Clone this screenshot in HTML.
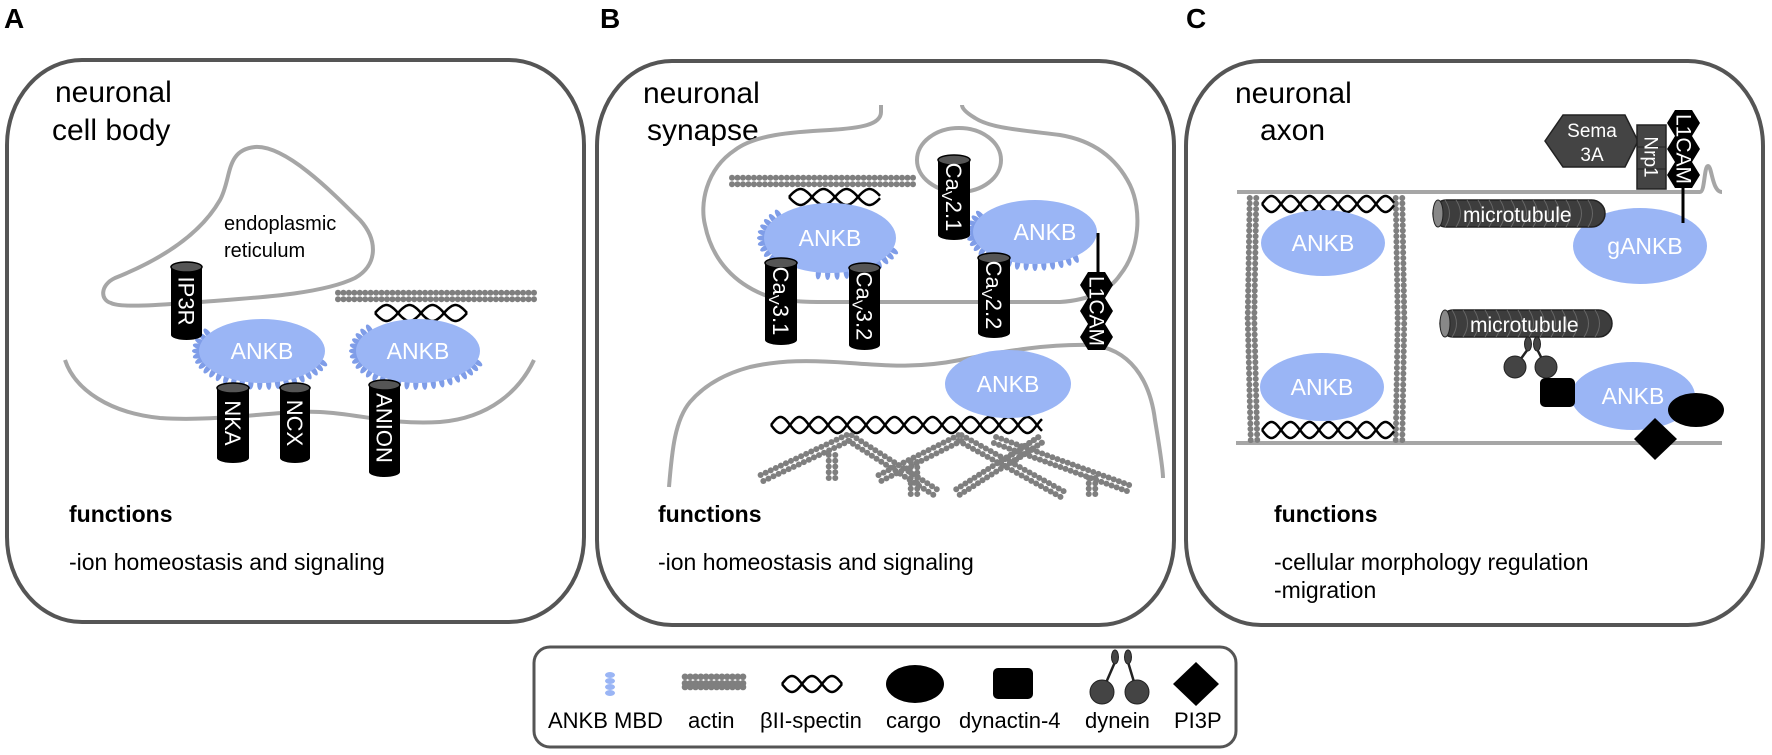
<!DOCTYPE html>
<html><head><meta charset="utf-8"><style>
html,body{margin:0;padding:0;background:#fff}
svg{display:block}
text{font-family:"Liberation Sans",sans-serif}
</style></head><body>
<svg id="s" width="1772" height="755" viewBox="0 0 1772 755" xmlns="http://www.w3.org/2000/svg">
<rect width="1772" height="755" fill="#fff"/>
<text x="4" y="28" font-size="28" font-weight="bold">A</text>
<text x="600" y="28" font-size="28" font-weight="bold">B</text>
<text x="1186" y="28" font-size="28" font-weight="bold">C</text>
<rect x="7" y="60" width="577" height="562" rx="75" ry="85" fill="none" stroke="#555" stroke-width="4"/>
<rect x="597" y="61" width="577" height="564" rx="75" ry="85" fill="none" stroke="#555" stroke-width="4"/>
<rect x="1186" y="61" width="577" height="564" rx="75" ry="85" fill="none" stroke="#555" stroke-width="4"/>
<rect x="534" y="647" width="702" height="100" rx="16" ry="16" fill="none" stroke="#555" stroke-width="3"/>

<g font-size="30" fill="#000">
<text x="55" y="102">neuronal</text><text x="52" y="140">cell body</text>
<text x="643" y="103">neuronal</text><text x="647" y="140">synapse</text>
<text x="1235" y="103">neuronal</text><text x="1260" y="140">axon</text>
</g>
<g font-size="23">
<text x="69" y="522" font-weight="bold">functions</text>
<text x="69" y="570">-ion homeostasis and signaling</text>
<text x="658" y="522" font-weight="bold">functions</text>
<text x="658" y="570">-ion homeostasis and signaling</text>
<text x="1274" y="522" font-weight="bold">functions</text>
<text x="1274" y="570">-cellular morphology regulation</text>
<text x="1274" y="598">-migration</text>
</g>

<g fill="none" stroke="#a6a6a6" stroke-width="4">
<path d="M111,303 C100,300 100,285 115,278 C160,260 200,235 220,200 C232,178 225,150 255,147 C285,145 330,190 360,220 C378,240 378,265 355,278 C320,295 250,298 200,302 C160,305 120,308 111,303 Z"/>
<path d="M65,360 C75,390 110,413 160,418 C220,422 280,410 320,412 C360,414 390,425 440,422 C490,418 520,390 534,360"/>
<path d="M881,105 L881,112 C881,125 860,128 830,130 C790,132 755,135 735,150 C705,170 700,205 705,225 C712,260 735,285 770,297 C790,303 820,302 850,302 L1060,302 C1090,300 1110,290 1120,275 C1140,250 1142,210 1130,185 C1115,155 1090,140 1060,135 C1020,130 990,128 975,118 C965,112 962,108 962,105"/>
<ellipse cx="959" cy="160" rx="42" ry="32"/>
<path d="M669,487 C672,450 675,420 690,402 C702,388 720,375 750,367 C780,360 810,360 850,363 C890,366 920,368 960,360 C1010,350 1050,344 1090,345 C1130,348 1150,380 1155,420 C1160,450 1163,470 1163,478"/>
<path d="M1237,192 L1700,192 C1705,192 1704,166 1708,166 C1712,166 1712,192 1722,192"/>
<path d="M1236,443 L1722,443"/>
</g>

<g id="gen"></g>

<g fill="#9ab5f5">
<ellipse cx="262" cy="351" rx="63" ry="32"/>
<ellipse cx="418" cy="351" rx="62" ry="32"/>
<ellipse cx="830" cy="238" rx="66" ry="35"/>
<ellipse cx="1035" cy="232" rx="62" ry="32"/>
<ellipse cx="1008" cy="384" rx="63" ry="34"/>
<ellipse cx="1323" cy="243" rx="62" ry="33"/>
<ellipse cx="1322" cy="387" rx="62" ry="34"/>
<ellipse cx="1640" cy="246" rx="67" ry="38"/>
<ellipse cx="1633" cy="396" rx="62" ry="34"/>
</g>
<g fill="#fff" font-size="23" text-anchor="middle">
<text x="262" y="359">ANKB</text>
<text x="418" y="359">ANKB</text>
<text x="830" y="246">ANKB</text>
<text x="1045" y="240">ANKB</text>
<text x="1008" y="392">ANKB</text>
<text x="1323" y="251">ANKB</text>
<text x="1322" y="395">ANKB</text>
<text x="1645" y="254">gANKB</text>
<text x="1633" y="404">ANKB</text>
</g>

<text x="224" y="230" font-size="20">endoplasmic</text>
<text x="224" y="257" font-size="20">reticulum</text>

<g id="cyl"></g>
<g fill="#fff" font-size="22" text-anchor="middle">
<text transform="translate(186.5,301) rotate(90)" dy="8">IP3R</text>
<text transform="translate(233,423) rotate(90)" dy="8">NKA</text>
<text transform="translate(295,423) rotate(90)" dy="8">NCX</text>
<text transform="translate(384.5,428) rotate(90)" dy="8">ANION</text>
<text transform="translate(954,197) rotate(90)" dy="8">Ca<tspan font-size="15" dy="4">V</tspan><tspan dy="-4">2.1</tspan></text>
<text transform="translate(781,301) rotate(90)" dy="8">Ca<tspan font-size="15" dy="4">V</tspan><tspan dy="-4">3.1</tspan></text>
<text transform="translate(864.5,306) rotate(90)" dy="8">Ca<tspan font-size="15" dy="4">V</tspan><tspan dy="-4">3.2</tspan></text>
<text transform="translate(994,295) rotate(90)" dy="8">Ca<tspan font-size="15" dy="4">V</tspan><tspan dy="-4">2.2</tspan></text>
</g>

<line x1="1098" y1="233" x2="1098" y2="274" stroke="#000" stroke-width="3"/>
<g fill="#000">
<polygon points="1080,285 1088,272 1105,272 1113,285 1105,298 1088,298"/>
<polygon points="1080,311 1088,298 1105,298 1113,311 1105,324 1088,324"/>
<polygon points="1080,337 1088,324 1105,324 1113,337 1105,350 1088,350"/>
</g>
<text transform="translate(1096.5,311) rotate(90)" dy="7" fill="#fff" font-size="21" text-anchor="middle">L1CAM</text>

<polygon points="1545,141 1563,115 1625,115 1638,141 1625,167 1563,167" fill="#444" stroke="#222" stroke-width="1.5"/>
<text x="1592" y="137" fill="#fff" font-size="19" text-anchor="middle">Sema</text>
<text x="1592" y="161" fill="#fff" font-size="19" text-anchor="middle">3A</text>
<rect x="1637" y="125" width="29" height="64" fill="#444" stroke="#222" stroke-width="1.5"/>
<line x1="1637" y1="147" x2="1666" y2="147" stroke="#222"/><line x1="1637" y1="169" x2="1666" y2="169" stroke="#222"/>
<text transform="translate(1651.5,157) rotate(90)" dy="7" fill="#fff" font-size="19" text-anchor="middle">Nrp1</text>
<line x1="1683" y1="185" x2="1683" y2="223" stroke="#000" stroke-width="3"/>
<g fill="#000">
<polygon points="1667,123 1675,110 1692,110 1700,123 1692,136 1675,136"/>
<polygon points="1667,149 1675,136 1692,136 1700,149 1692,162 1675,162"/>
<polygon points="1667,175 1675,162 1692,162 1700,175 1692,188 1675,188"/>
</g>
<text transform="translate(1683.5,149) rotate(90)" dy="7" fill="#fff" font-size="21" text-anchor="middle">L1CAM</text>

<g id="mt"></g>
<text x="1463" y="222" fill="#fff" font-size="21">microtubule</text>
<text x="1470" y="332" fill="#fff" font-size="21">microtubule</text>
<g id="dyn"></g>

<rect x="1540" y="378" width="35" height="29" rx="5" fill="#000"/>
<ellipse cx="1696" cy="410" rx="28" ry="17" fill="#000"/>
<polygon points="1655,418 1677,439 1655,460 1634,439" fill="#000"/>

<g font-size="22" fill="#000">
<text x="548" y="728">ANKB MBD</text>
<text x="688" y="728">actin</text>
<text x="760" y="728">βII-spectin</text>
<text x="886" y="728">cargo</text>
<text x="959" y="728">dynactin-4</text>
<text x="1085" y="728">dynein</text>
<text x="1174" y="728">PI3P</text>
</g>
<g fill="#9ab5f5"><ellipse cx="610" cy="675" rx="5" ry="3"/><ellipse cx="610" cy="681" rx="5" ry="3"/><ellipse cx="610" cy="687" rx="5" ry="3"/><ellipse cx="610" cy="693" rx="5" ry="3"/></g>
<ellipse cx="915" cy="684" rx="29" ry="19" fill="#000"/>
<rect x="993" y="668" width="40" height="31" rx="5" fill="#000"/>
<polygon points="1196,662 1219,684 1196,706 1173,684" fill="#000"/>
</svg>
<script>
var NS="http://www.w3.org/2000/svg";
var gen=document.getElementById("gen"),cyl=document.getElementById("cyl"),mt=document.getElementById("mt"),dyn=document.getElementById("dyn");
function el(p,t,a){var e=document.createElementNS(NS,t);for(var k in a)e.setAttribute(k,a[k]);p.appendChild(e);return e;}
function actin(x1,y1,x2,y2,rows,r){rows=rows||2;r=r||3;var dx=x2-x1,dy=y2-y1,L=Math.hypot(dx,dy),ux=dx/L,uy=dy/L,px=-uy,py=ux;var n=Math.round(L/5.5);
 for(var i=0;i<=n;i++){var t=i*L/n;for(var k=0;k<rows;k++){var o=(k-(rows-1)/2)*6.5;el(gen,"circle",{cx:x1+ux*t+px*o,cy:y1+uy*t+py*o,r:r,fill:"#7f7f7f"});}}}
function spectin(x1,x2,cy,amp,per,w){for(var s=-1;s<=1;s+=2){var d="";for(var x=x1;x<=x2+0.1;x+=1){var y=cy+s*amp*Math.sin((x-x1)/per*2*Math.PI);d+=(x==x1?"M":"L")+x.toFixed(1)+","+y.toFixed(1);}el(gen,"path",{d:d,fill:"none",stroke:"#000","stroke-width":w||2.5});}}
function mbd(cx,cy,rx,ry,a0,a1){for(var a=a0;a<=a1;a+=8){var r=a*Math.PI/180;var x=cx+(rx+1)*Math.cos(r),y=cy+(ry+1)*Math.sin(r);var nx=Math.cos(r)/rx,ny=Math.sin(r)/ry;var ang=Math.atan2(ny,nx)*180/Math.PI;el(gen,"ellipse",{cx:x,cy:y,rx:6,ry:2.6,fill:"#7f9de8",transform:"rotate("+ang+" "+x+" "+y+")"});}}
function cylinder(x,y,w,h){el(cyl,"rect",{x:x,y:y+5,width:w,height:h-10,fill:"#000"});el(cyl,"ellipse",{cx:x+w/2,cy:y+h-5,rx:w/2,ry:5,fill:"#000"});el(cyl,"ellipse",{cx:x+w/2,cy:y+5,rx:w/2,ry:5,fill:"#555",stroke:"#000","stroke-width":1.5});}
function micro(x,y,w,h){el(mt,"rect",{x:x,y:y,width:w,height:h,rx:h/2,fill:"#3d3d3d",stroke:"#222","stroke-width":1.5});
 for(var i=x+12;i<x+w-6;i+=11){el(mt,"path",{d:"M"+i+","+y+" Q"+(i+9)+","+(y+h/2)+" "+i+","+(y+h),fill:"none",stroke:"#666","stroke-width":1});}
 el(mt,"ellipse",{cx:x+5,cy:y+h/2,rx:5,ry:h/2,fill:"#888",stroke:"#222","stroke-width":1});}
function dynein(p,x1,x2,ytop,ycirc,r){
 el(p,"line",{x1:x1,y1:ytop+12,x2:x1-13,y2:ycirc,stroke:"#222","stroke-width":2.5});el(p,"line",{x1:x2,y1:ytop+12,x2:x2+9,y2:ycirc,stroke:"#222","stroke-width":2.5});
 el(p,"ellipse",{cx:x1,cy:ytop+7,rx:3.5,ry:7,fill:"#444",stroke:"#222"});el(p,"ellipse",{cx:x2,cy:ytop+7,rx:3.5,ry:7,fill:"#444",stroke:"#222"});
 el(p,"circle",{cx:x1-13,cy:ycirc,r:r,fill:"#444",stroke:"#222"});el(p,"circle",{cx:x2+9,cy:ycirc,r:r,fill:"#444",stroke:"#222"});}

mbd(262,351,63,32,20,215);
mbd(418,351,62,32,20,220);
mbd(830,238,66,35,20,100);mbd(830,238,66,35,140,220);
mbd(1035,232,62,32,50,210);
actin(338,296,534,296);spectin(375,467,313,8,46);
actin(732,181,913,181);spectin(789,880,197,8,46);
spectin(771,1042,425,8,38);
var br=[[762,478,848,438],[850,438,935,492],[880,478,960,438],[960,438,1062,494],[958,492,1040,440],[995,440,1128,488],[832,455,832,478],[914,462,914,494],[1092,478,1092,494],[1040,440,1010,460]];
br.forEach(function(b){actin(b[0],b[1],b[2],b[3]);});
actin(1253,198,1251,318);actin(1251,318,1254,440);actin(1399,198,1401,318);actin(1401,318,1399,440);
spectin(1262,1394,204,8,38);spectin(1262,1394,430,8,38);
cylinder(171,262,31,78);cylinder(217,383,32,80);cylinder(280,383,30,80);cylinder(369,380,31,97);
cylinder(938,155,32,85);cylinder(765,258,32,87);cylinder(849,263,31,87);cylinder(978,253,32,85);
micro(1433,200,172,27);micro(1440,310,172,27);
dynein(dyn,1528,1537,337,367,11);
actin(685,680,743,680,2,3.3);actin(685,687,743,687,1,3.3);
spectin(782,842,684,8,40);
dynein(dyn,1115,1128,650,692,12);
</script>
</body></html>
